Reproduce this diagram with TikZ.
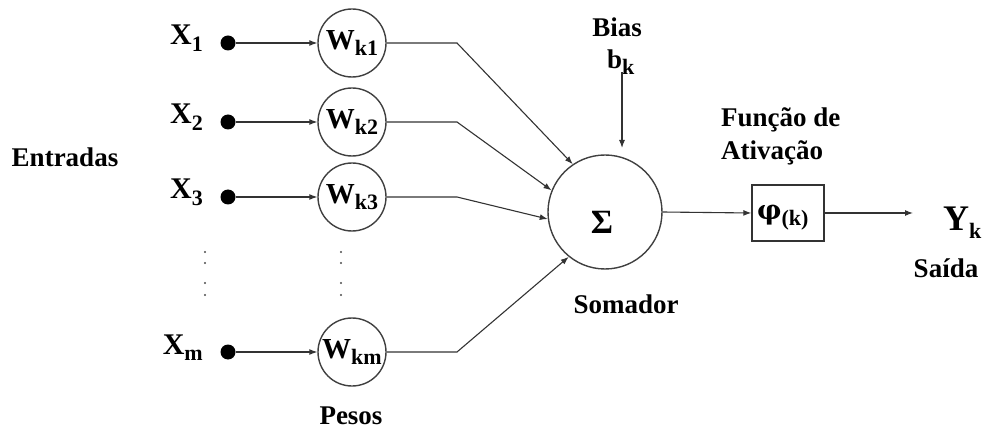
\documentclass[tikz,border=0pt]{standalone}
\usepackage{fontspec}
\setmainfont{Liberation Serif}
\newfontfamily\dvs{DejaVu Serif}
\usetikzlibrary{arrows.meta}
\newcommand\lbl{\fontsize{27}{30}\selectfont\bfseries}
\newcommand\xlbl{\fontsize{30}{32}\selectfont\bfseries}
\newcommand\sbs[1]{\raisebox{-0.22em}{\fontsize{22}{22}\selectfont #1}}
\begin{document}
\begin{tikzpicture}[x=1pt,y=-1pt,
  wt/.style={circle, draw=black!75, line width=1.4pt, minimum size=68pt, inner sep=0pt, font=\fontsize{29}{30}\selectfont\bfseries},
  dotn/.style={circle, fill=black, minimum size=15pt, inner sep=0pt},
  ln/.style={draw=black!80, line width=1.1pt},
  arr/.style={ln, -{Latex[length=8pt,width=6pt]}},
  txt/.style={font=\lbl, inner sep=0pt, anchor=base},
  vdot/.style={circle, fill=black!70, minimum size=2.4pt, inner sep=0pt}]
\useasboundingbox (0,0) rectangle (987,430);

% inputs
\node[txt] (ent) at (65,167) {Entradas};
\foreach \i/\y/\s in {1/43/1, 2/122/2, 3/197/3, m/352/m}{
  \node[txt, anchor=base east, font=\xlbl] (x\i) at (203,\y+2) {X\sbs{\s}};
  \node[dotn] (d\i) at (228,\y) {};
  \node[wt] (w\i) at (352,\y) {W\sbs{k\s}};
  \draw[arr] (d\i) -- (w\i);
  \coordinate (b\i) at (457,\y);
}
% vertical dots
\foreach \yy [count=\n] in {252,263,283,295}{
  \node[vdot] (va\n) at (205,\yy) {};
  \node[vdot] (vb\n) at (341,\yy) {};
}
\node[txt] (pesos) at (351,424) {Pesos};

% summing junction
\node[circle, draw=black!75, line width=1.4pt, minimum size=114pt, inner sep=0pt] (sum) at (605,212) {};
\node[font=\fontsize{34}{34}\selectfont\bfseries, inner sep=0pt] (sig) at (602,222) {Σ};
\node[txt] (som) at (626,313) {Somador};

\draw[arr] (w1.east) -- (b1) -- (sum.124);
\draw[arr] (w2.east) -- (b2) -- (sum.158);
\draw[arr] (w3.east) -- (b3) -- (sum.187);
\draw[arr] (wm.east) -- (bm) -- (sum.231);

% bias
\node[txt] (bias) at (617,37) {Bias};
\node[txt, anchor=base west] (bk) at (607,69) {b\sbs{k}};
\coordinate (bt) at (622,72);
\coordinate (bb) at (622,148);
\draw[arr] (bt) -- (bb);

% activation
\node[txt, anchor=base west] (f1) at (721,127) {Função de};
\node[txt, anchor=base west] (f2) at (721,160) {Ativação};
\node[draw=black!80, line width=1.4pt, minimum width=72pt, minimum height=56pt, inner sep=0pt] (phi) at (788,213) {};
\node[txt, anchor=base west] (phit) at (757,220) {{\dvs\fontsize{27}{27}\selectfont\bfseries φ}\sbs{(k)}};
\draw[arr] (sum.east) -- (phi.west);
\coordinate (out) at (913,213);
\draw[arr] (phi.east) -- (out);

\node[txt, anchor=base west, font=\fontsize{36}{36}\selectfont\bfseries] (yk) at (943,231) {Y\sbs{k}};
\node[txt] (sai) at (946,277) {Saída};
\end{tikzpicture}
\end{document}
